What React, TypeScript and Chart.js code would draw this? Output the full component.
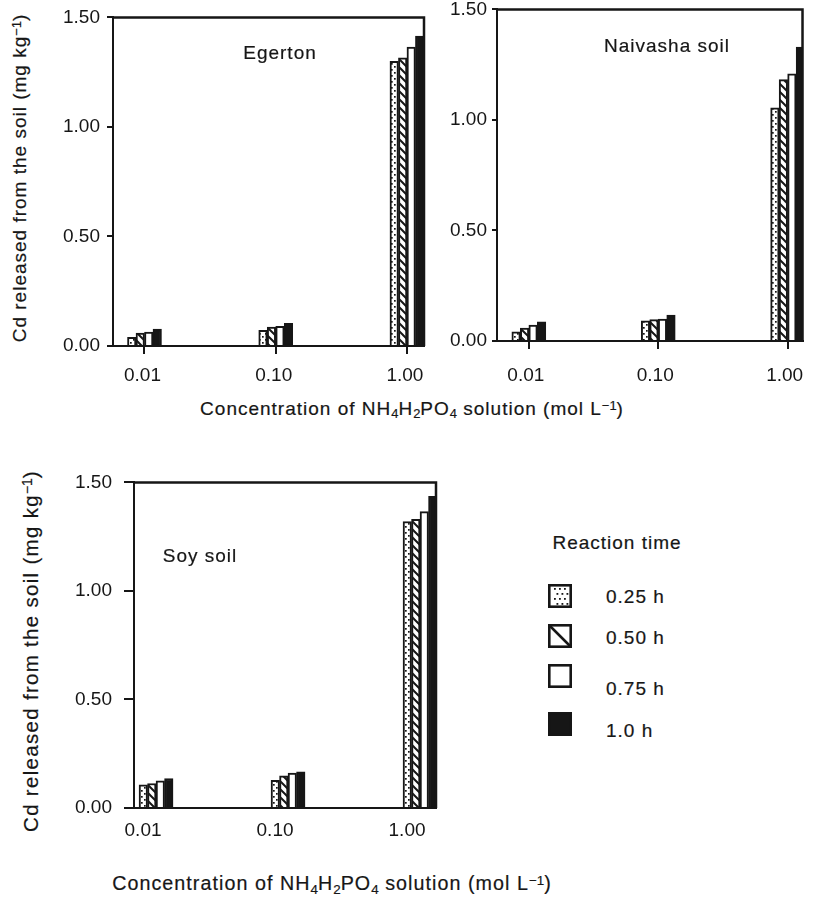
import React, { useEffect, useRef } from "react";
import { Chart, registerables } from "chart.js";

Chart.register(...registerables);

// ---------- data ----------
const concentrationLabels = ["0.01", "0.10", "1.00"];
const concentrationPositions = [0, 1, 2];
const reactionTimes = ["0.25 h", "0.50 h", "0.75 h", "1.0 h"];
const yTickValues = [0, 0.5, 1.0, 1.5];

// Egerton
const egerton025 = [0.04, 0.072, 1.3];
const egerton050 = [0.059, 0.086, 1.315];
const egerton075 = [0.063, 0.09, 1.365];
const egerton100 = [0.077, 0.104, 1.415];

// Naivasha soil
const naivasha025 = [0.042, 0.091, 1.055];
const naivasha050 = [0.058, 0.097, 1.182];
const naivasha075 = [0.072, 0.099, 1.209];
const naivasha100 = [0.087, 0.117, 1.329];

// Soy soil
const soy025 = [0.107, 0.128, 1.32];
const soy050 = [0.113, 0.148, 1.33];
const soy075 = [0.125, 0.161, 1.365];
const soy100 = [0.136, 0.167, 1.436];

// ---------- styles ----------
const INK = "#161616";
const FONT = "'Liberation Sans', Arial, Helvetica, sans-serif";
type Kind = "dots" | "hatch" | "white" | "black";
const seriesKinds: Kind[] = ["dots", "hatch", "white", "black"];

function makeTile(kind: Kind): HTMLCanvasElement | null {
  if (kind === "dots") {
    const t = document.createElement("canvas");
    t.width = 6;
    t.height = 6;
    const c = t.getContext("2d")!;
    c.fillStyle = "#fff";
    c.fillRect(0, 0, 6, 6);
    c.fillStyle = INK;
    c.fillRect(1, 1, 1.7, 1.7);
    c.fillRect(4, 4, 1.7, 1.7);
    return t;
  }
  if (kind === "hatch") {
    const t = document.createElement("canvas");
    t.width = 8;
    t.height = 8;
    const c = t.getContext("2d")!;
    c.fillStyle = "#fff";
    c.fillRect(0, 0, 8, 8);
    c.strokeStyle = INK;
    c.lineWidth = 2;
    c.beginPath();
    c.moveTo(-2, -2);
    c.lineTo(10, 10);
    c.moveTo(-2, 6);
    c.lineTo(2, 10);
    c.moveTo(6, -2);
    c.lineTo(10, 2);
    c.stroke();
    return t;
  }
  return null;
}

function fillFor(kind: Kind, ctx: CanvasRenderingContext2D): string | CanvasPattern {
  if (kind === "white") return "#ffffff";
  if (kind === "black") return INK;
  const tile = makeTile(kind)!;
  return ctx.createPattern(tile, "repeat")!;
}

const framePlugin = {
  id: "frame",
  afterDatasetsDraw(chart: any) {
    const { ctx, chartArea: a } = chart;
    ctx.save();
    ctx.strokeStyle = INK;
    ctx.lineWidth = 2.5;
    ctx.beginPath();
    ctx.moveTo(a.left - 1, a.top);
    ctx.lineTo(a.right, a.top);
    ctx.lineTo(a.right, a.bottom);
    ctx.stroke();
    ctx.restore();
  },
};

type PanelSpec = {
  series: number[][];
  plotLeft: number;
  plotRight: number;
  plotTop: number;
  plotBottom: number;
  xMin: number;
  xMax: number;
  yAxisW: number;
  yTickLen: number;
  yPad: number;
  xTickLen: number;
  xPad: number;
  xLabelOffset: number;
  drawXTicks: boolean;
};

const PAD_TOP = 14;
const PAD_RIGHT = 18;
const X_AXIS_H = 48;

function Panel({ spec }: { spec: PanelSpec }) {
  const ref = useRef<HTMLCanvasElement>(null);
  const width = spec.yAxisW + (spec.plotRight - spec.plotLeft) + PAD_RIGHT;
  const height = PAD_TOP + (spec.plotBottom - spec.plotTop) + X_AXIS_H;

  useEffect(() => {
    const canvas = ref.current!;
    const ctx = canvas.getContext("2d")!;
    const fills = seriesKinds.map((k) => fillFor(k, ctx));
    const chart = new Chart(canvas, {
      type: "bar",
      data: {
        datasets: spec.series.map((vals, i) => ({
          label: reactionTimes[i],
          data: concentrationPositions.map((x, j) => ({ x, y: vals[j] })),
          backgroundColor: fills[i] as any,
          borderColor: INK,
          borderWidth: 2,
          barThickness: 8.5,
        })),
      },
      options: {
        responsive: false,
        animation: false,
        events: [],
        layout: { padding: { left: 0, top: PAD_TOP, right: PAD_RIGHT, bottom: 0 } },
        plugins: { legend: { display: false }, tooltip: { enabled: false } },
        scales: {
          x: {
            type: "linear",
            offset: false,
            min: spec.xMin,
            max: spec.xMax,
            afterBuildTicks: (axis: any) => {
              axis.ticks = concentrationPositions.map((v) => ({ value: v }));
            },
            ticks: {
              callback: (v: any) => {
                const idx = concentrationPositions.indexOf(Number(v));
                return idx >= 0 ? concentrationLabels[idx] : "";
              },
              font: { family: FONT, size: 19 },
              color: INK,
              padding: spec.xPad,
              labelOffset: spec.xLabelOffset,
              maxRotation: 0,
              autoSkip: false,
            },
            grid: {
              offset: false,
              drawOnChartArea: false,
              drawTicks: spec.drawXTicks,
              tickLength: spec.xTickLen,
              color: INK,
              lineWidth: 2,
            },
            border: { display: true, color: INK, width: 2 },
            afterFit: (axis: any) => {
              axis.height = X_AXIS_H;
            },
          },
          y: {
            type: "linear",
            min: 0,
            max: 1.5,
            afterBuildTicks: (axis: any) => {
              axis.ticks = yTickValues.map((v) => ({ value: v }));
            },
            ticks: {
              callback: (v: any) => Number(v).toFixed(2),
              font: { family: FONT, size: 19 },
              color: INK,
              padding: spec.yPad,
            },
            grid: {
              drawOnChartArea: false,
              drawTicks: true,
              tickLength: spec.yTickLen,
              color: INK,
              lineWidth: 2,
            },
            border: { display: true, color: INK, width: 2 },
            afterFit: (axis: any) => {
              axis.width = spec.yAxisW;
            },
          },
        },
      } as any,
      plugins: [framePlugin],
    });
    return () => chart.destroy();
  }, []);

  return (
    <canvas
      ref={ref}
      width={width}
      height={height}
      style={{
        position: "absolute",
        left: spec.plotLeft - spec.yAxisW,
        top: spec.plotTop - PAD_TOP,
        width,
        height,
      }}
    />
  );
}

function Swatch({ kind, left, top }: { kind: Kind; left: number; top: number }) {
  const ref = useRef<HTMLCanvasElement>(null);
  const size = 24;
  useEffect(() => {
    const c = ref.current!.getContext("2d")!;
    c.clearRect(0, 0, size, size);
    if (kind === "dots") {
      c.fillStyle = "#fff";
      c.fillRect(0, 0, size, size);
      c.fillStyle = INK;
      for (let y = 4; y < size - 3; y += 5)
        for (let x = 4 + ((y / 5) % 2) * 2.5; x < size - 3; x += 5) c.fillRect(x, y, 1.8, 1.8);
    } else if (kind === "hatch") {
      c.fillStyle = "#fff";
      c.fillRect(0, 0, size, size);
      c.strokeStyle = INK;
      c.lineWidth = 2.5;
      c.beginPath();
      c.moveTo(1, 1);
      c.lineTo(size - 1, size - 1);
      c.stroke();
    } else if (kind === "white") {
      c.fillStyle = "#fff";
      c.fillRect(0, 0, size, size);
    } else {
      c.fillStyle = INK;
      c.fillRect(0, 0, size, size);
    }
    c.strokeStyle = INK;
    c.lineWidth = 2.6;
    c.strokeRect(1.3, 1.3, size - 2.6, size - 2.6);
  }, []);
  return (
    <canvas
      ref={ref}
      width={size}
      height={size}
      style={{ position: "absolute", left, top, width: size, height: size }}
    />
  );
}

const baseText: React.CSSProperties = {
  position: "absolute",
  fontFamily: FONT,
  fontSize: 19,
  letterSpacing: 1,
  color: INK,
  whiteSpace: "nowrap",
  lineHeight: 1,
  WebkitTextStroke: "0.2px " + INK,
  transform: "translate(-50%, -50%)",
};

function Label({
  x,
  y,
  children,
  rotate,
  align,
  size,
  spacing,
}: {
  x: number;
  y: number;
  children: any;
  rotate?: boolean;
  align?: "left";
  size?: number;
  spacing?: number;
}) {
  const style: React.CSSProperties = { ...baseText, left: x, top: y };
  if (size) style.fontSize = size;
  if (spacing !== undefined) style.letterSpacing = spacing;
  if (rotate) style.transform = "translate(-50%, -50%) rotate(-90deg)";
  if (align === "left") style.transform = "translate(0, -50%)";
  return <div style={style}>{children}</div>;
}

const supStyle: React.CSSProperties = { fontSize: "0.68em", verticalAlign: "0.38em", letterSpacing: 0 };
const subStyle: React.CSSProperties = { fontSize: "0.68em", verticalAlign: "-0.28em", letterSpacing: 0 };

function YTitle() {
  return (
    <>
      Cd released from the soil (mg kg<span style={supStyle}>−1</span>)
    </>
  );
}

function XTitle() {
  return (
    <>
      Concentration of NH<span style={subStyle}>4</span>H<span style={subStyle}>2</span>PO
      <span style={subStyle}>4</span> solution (mol L<span style={supStyle}>−1</span>)
    </>
  );
}

const egertonSpec: PanelSpec = {
  series: [egerton025, egerton050, egerton075, egerton100],
  plotLeft: 113,
  plotRight: 424,
  plotTop: 13,
  plotBottom: 346,
  xMin: -0.24,
  xMax: 2.13,
  yAxisW: 62,
  yTickLen: 6,
  yPad: 7,
  xTickLen: 8,
  xPad: 10,
  xLabelOffset: -2,
  drawXTicks: true,
};

const naivashaSpec: PanelSpec = {
  series: [naivasha025, naivasha050, naivasha075, naivasha100],
  plotLeft: 497,
  plotRight: 804,
  plotTop: 7,
  plotBottom: 341,
  xMin: -0.246,
  xMax: 2.115,
  yAxisW: 56,
  yTickLen: 5,
  yPad: 5,
  xTickLen: 8,
  xPad: 15,
  xLabelOffset: -3,
  drawXTicks: true,
};

const soySpec: PanelSpec = {
  series: [soy025, soy050, soy075, soy100],
  plotLeft: 134,
  plotRight: 436,
  plotTop: 473,
  plotBottom: 808,
  xMin: -0.167,
  xMax: 2.121,
  yAxisW: 72,
  yTickLen: 10,
  yPad: 12,
  xTickLen: 0,
  xPad: 11,
  xLabelOffset: -13,
  drawXTicks: false,
};

const legendRows = [
  { kind: "dots" as Kind, swatchTop: 584, textY: 596 },
  { kind: "hatch" as Kind, swatchTop: 624, textY: 637 },
  { kind: "white" as Kind, swatchTop: 664, textY: 688 },
  { kind: "black" as Kind, swatchTop: 712, textY: 730 },
];

export default function App() {
  return (
    <div
      style={{
        position: "absolute",
        left: 0,
        top: 0,
        width: 813,
        height: 901,
        overflow: "hidden",
        background: "#ffffff",
      }}
    >
      <Panel spec={egertonSpec} />
      <Panel spec={naivashaSpec} />
      <Panel spec={soySpec} />

      <Label x={280} y={52}>Egerton</Label>
      <Label x={667} y={45}>Naivasha soil</Label>
      <Label x={200} y={555}>Soy soil</Label>

      <Label x={19} y={178} rotate>
        <YTitle />
      </Label>
      <Label x={31} y={651} rotate size={20.5} spacing={1.3}>
        <YTitle />
      </Label>

      <Label x={412} y={410}>
        <XTitle />
      </Label>
      <Label x={332} y={885} size={19.7} spacing={1.05}>
        <XTitle />
      </Label>

      <Label x={617} y={542}>Reaction time</Label>
      {legendRows.map((r, i) => (
        <React.Fragment key={i}>
          <Swatch kind={r.kind} left={548} top={r.swatchTop} />
          <Label x={606} y={r.textY} align="left">
            {reactionTimes[i]}
          </Label>
        </React.Fragment>
      ))}
    </div>
  );
}
